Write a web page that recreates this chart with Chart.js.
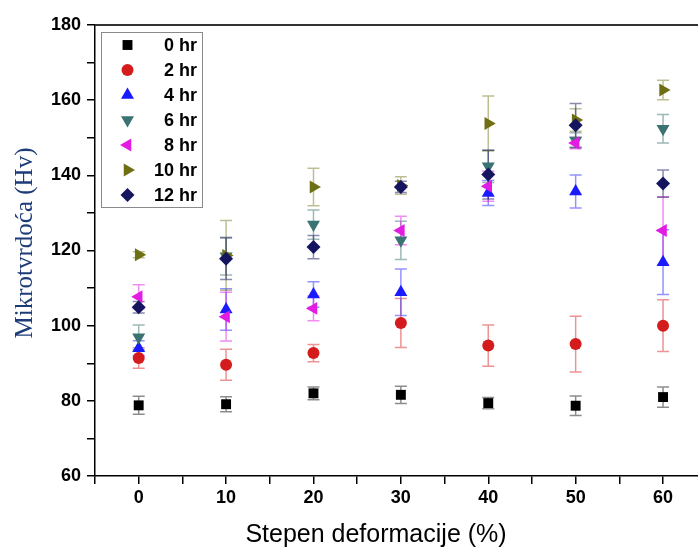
<!DOCTYPE html>
<html>
<head>
<meta charset="utf-8">
<script src="https://cdn.jsdelivr.net/npm/chart.js@4"></script>
<style>
  body { margin: 0; background: #fff; }
  #wrap { width: 698px; height: 550px; position: relative; }
</style>
</head>
<body>
<div id="wrap"><canvas id="chartHv"></canvas></div>
<script>
// stepen deformacije (%)
const deformacija = [0, 10, 20, 30, 40, 50, 60];

// mikrotvrdoca (Hv) po vremenu zarenja, sa greskama
const hr0 = [78.8, 79.1, 82.0, 81.6, 79.4, 78.7, 81.0];
const hr0Err = [2.4, 2.0, 1.7, 2.3, 1.5, 2.6, 2.7];
const hr2 = [91.4, 89.6, 92.7, 100.7, 94.7, 95.1, 100.0];
const hr2Err = [2.7, 4.1, 2.3, 6.5, 5.5, 7.4, 6.9];
const hr4 = [94.0, 104.3, 108.3, 108.9, 135.3, 135.7, 116.9];
const hr4Err = [2.0, 5.5, 3.4, 6.2, 3.3, 4.4, 8.6];
const hr6 = [96.9, 118.5, 126.9, 122.7, 142.4, 149.3, 152.4];
const hr6Err = [3.3, 5.0, 3.9, 5.1, 4.3, 2.0, 3.8];
const hr8 = [107.7, 102.4, 104.6, 125.3, 137.1, 148.6, 125.3];
const hr8Err = [3.2, 6.5, 3.3, 3.8, 4.0, 1.5, 9.0];
const hr10 = [118.9, 118.7, 136.9, 137.3, 153.8, 154.7, 162.7];
const hr10Err = [0.8, 9.3, 5.0, 2.3, 7.3, 3.0, 2.6];
const hr12 = [104.9, 117.8, 120.9, 136.9, 140.2, 153.3, 137.8];
const hr12Err = [1.5, 5.5, 3.1, 1.5, 6.5, 5.8, 3.6];

const yTicks = [60, 80, 100, 120, 140, 160, 180];
const xTicks = [0, 10, 20, 30, 40, 50, 60];

const serije = [
    { label: '0 hr', v: hr0, e: hr0Err, color: '#000000', bar: 'rgba(0,0,0,0.45)', style: 'rect', rot: 0, r: 7 },
    { label: '2 hr', v: hr2, e: hr2Err, color: '#d41c1c', bar: 'rgba(220,40,40,0.5)', style: 'circle', rot: 0, r: 6 },
    { label: '4 hr', v: hr4, e: hr4Err, color: '#1a1aff', bar: 'rgba(40,40,255,0.5)', style: 'triangle', rot: 0, r: 7.5 },
    { label: '6 hr', v: hr6, e: hr6Err, color: '#3b7272', bar: 'rgba(59,114,114,0.5)', style: 'triangle', rot: 180, r: 7.5 },
    { label: '8 hr', v: hr8, e: hr8Err, color: '#e31ce3', bar: 'rgba(227,28,227,0.5)', style: 'triangle', rot: 270, r: 7.5 },
    { label: '10 hr', v: hr10, e: hr10Err, color: '#6e6e12', bar: 'rgba(110,110,18,0.45)', style: 'triangle', rot: 90, r: 7.5 },
    { label: '12 hr', v: hr12, e: hr12Err, color: '#15155f', bar: 'rgba(21,21,95,0.5)', style: 'rectRot', rot: 0, r: 7 }
];

const datasets = serije.map((s, i) => ({
    label: s.label,
    data: deformacija.map((x, j) => ({ x: x, y: s.v[j] })),
    errors: s.e,
    barColor: s.bar,
    backgroundColor: s.color,
    borderColor: s.color,
    borderWidth: 0,
    pointStyle: s.style,
    rotation: s.rot,
    pointRadius: s.r,
    pointHoverRadius: s.r,
    order: serije.length - i
}));

// error bars, ispod markera
const errorBars = {
    id: 'errorBars',
    beforeDatasetsDraw(chart) {
        const ctx = chart.ctx;
        const yScale = chart.scales.y;
        ctx.save();
        ctx.lineWidth = 1.5;
        chart.data.datasets.forEach((ds, i) => {
            const meta = chart.getDatasetMeta(i);
            ctx.strokeStyle = ds.barColor;
            meta.data.forEach((pt, j) => {
                const val = ds.data[j].y;
                const err = ds.errors[j];
                const yTop = yScale.getPixelForValue(val + err);
                const yBot = yScale.getPixelForValue(val - err);
                const cap = 6;
                ctx.beginPath();
                ctx.moveTo(pt.x, yTop);
                ctx.lineTo(pt.x, yBot);
                ctx.moveTo(pt.x - cap, yTop);
                ctx.lineTo(pt.x + cap, yTop);
                ctx.moveTo(pt.x - cap, yBot);
                ctx.lineTo(pt.x + cap, yBot);
                ctx.stroke();
            });
        });
        ctx.restore();
    }
};

// okvir, legenda i naslovi osa
const dekor = {
    id: 'dekor',
    afterDraw(chart) {
        const ctx = chart.ctx;
        const area = chart.chartArea;
        ctx.save();

        ctx.strokeStyle = '#333';
        ctx.lineWidth = 2;
        ctx.beginPath();
        ctx.moveTo(area.left, area.top);
        ctx.lineTo(area.right, area.top);
        ctx.stroke();

        // legenda
        const lx = 101.5, ly = 32.5, lw = 101, lh = 175;
        ctx.fillStyle = '#fff';
        ctx.fillRect(lx, ly, lw, lh);
        ctx.strokeStyle = '#8a8a8a';
        ctx.lineWidth = 1;
        ctx.strokeRect(lx, ly, lw, lh);
        ctx.font = 'bold 18px "Liberation Sans", Arial, sans-serif';
        ctx.textAlign = 'right';
        ctx.textBaseline = 'middle';
        chart.data.datasets.forEach((ds, i) => {
            const y = 45 + i * 25;
            ctx.fillStyle = ds.backgroundColor;
            ctx.strokeStyle = ds.borderColor;
            Chart.helpers.drawPoint(ctx, {
                pointStyle: ds.pointStyle,
                rotation: ds.rotation,
                radius: ds.pointRadius,
                borderWidth: 0
            }, 127.5, y);
            ctx.fillStyle = '#000';
            ctx.fillText(ds.label, 197, y + 1);
        });

        // naslovi osa
        ctx.fillStyle = '#000';
        ctx.textAlign = 'center';
        ctx.font = '25px "Liberation Sans", Arial, sans-serif';
        ctx.fillText('Stepen deformacije (%)', 376, 535);

        ctx.translate(25, 243);
        ctx.rotate(-Math.PI / 2);
        ctx.fillStyle = '#1d3b78';
        ctx.font = '25px "Liberation Serif", "Times New Roman", serif';
        ctx.fillText('Mikrotvrdoća (Hv)', 0, 0);
        ctx.restore();
    }
};

const ctx = document.getElementById('chartHv').getContext('2d');
new Chart(ctx, {
    type: 'scatter',
    data: { datasets: datasets },
    plugins: [errorBars, dekor],
    options: {
        responsive: true,
        maintainAspectRatio: false,
        animation: false,
        layout: { autoPadding: false, padding: { top: 25, right: 0, left: 0, bottom: 0 } },
        plugins: {
            legend: { display: false },
            tooltip: { enabled: false }
        },
        scales: {
            x: {
                type: 'linear',
                min: -5,
                max: 64,
                afterFit: s => { s.height = 74; s.paddingLeft = 0; s.paddingRight = 0; },
                border: { display: true, color: '#000', width: 1.5 },
                grid: { display: true, drawOnChartArea: false, drawTicks: true, tickLength: 8, color: '#000', lineWidth: 1.5 },
                ticks: {
                    stepSize: 5,
                    includeBounds: false,
                    autoSkip: false,
                    maxRotation: 0,
                    padding: 3,
                    color: '#000',
                    font: { family: '"Liberation Sans", Arial, sans-serif', size: 18, weight: 'bold' },
                    callback: v => xTicks.includes(v) ? v : ''
                }
            },
            y: {
                min: 60,
                max: 180,
                afterFit: s => { s.width = 95; s.paddingTop = 0; s.paddingBottom = 0; },
                border: { display: true, color: '#000', width: 1.5 },
                grid: { display: true, drawOnChartArea: false, drawTicks: true, tickLength: 8, color: '#000', lineWidth: 1.5 },
                ticks: {
                    stepSize: 10,
                    autoSkip: false,
                    padding: 6,
                    color: '#000',
                    font: { family: '"Liberation Sans", Arial, sans-serif', size: 18, weight: 'bold' },
                    callback: v => yTicks.includes(v) ? v : ''
                }
            }
        }
    }
});
</script>
</body>
</html>
